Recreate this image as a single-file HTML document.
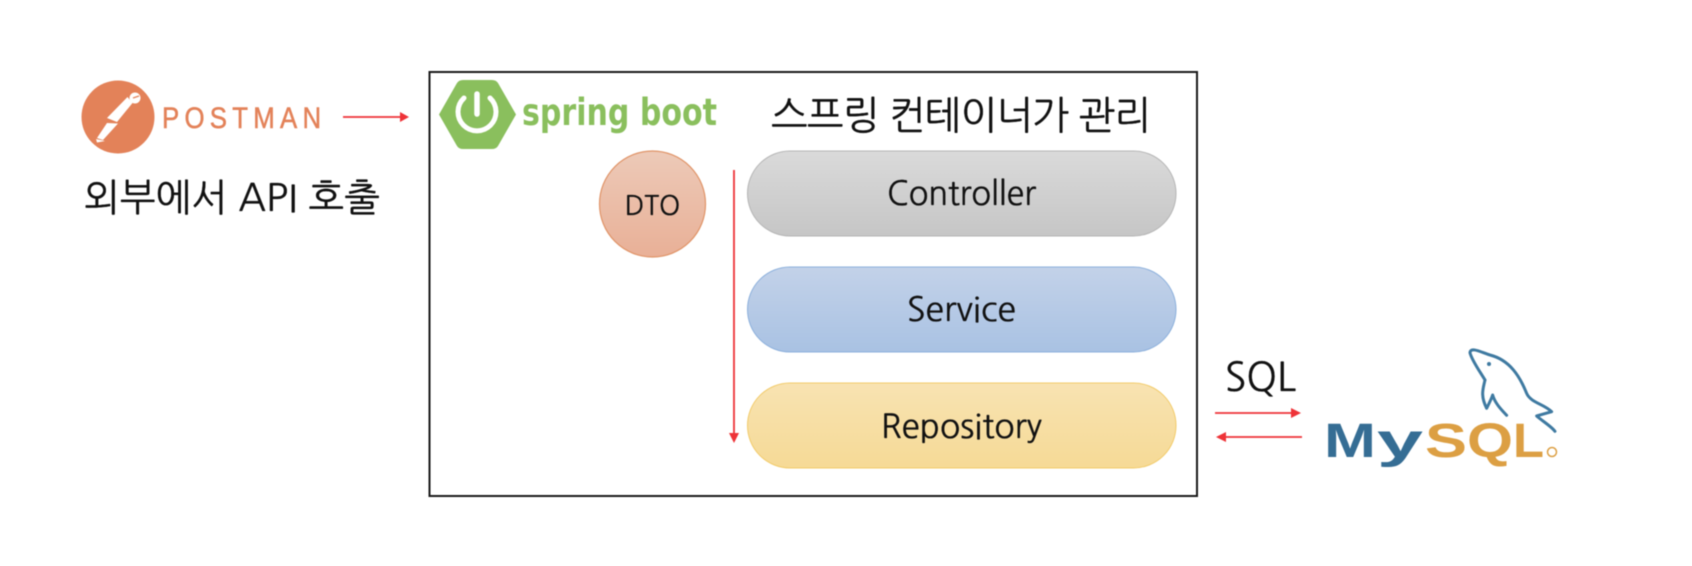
<!DOCTYPE html>
<html><head><meta charset="utf-8"><style>html,body{margin:0;padding:0;background:#fff;width:1692px;height:566px;overflow:hidden}svg{display:block;filter:blur(.45px)}
text{font-family:"NanumGothic","Noto Sans CJK KR","Liberation Sans",sans-serif;fill:#111}
.k{stroke:#111;stroke-width:.35px}</style></head><body>
<svg width="1692" height="566" viewBox="0 0 1692 566" xmlns="http://www.w3.org/2000/svg">
<defs>
<linearGradient id="g1" x1="0" y1="0" x2="0" y2="1"><stop offset="0" stop-color="#dadada"/><stop offset="1" stop-color="#c6c6c6"/></linearGradient>
<linearGradient id="g2" x1="0" y1="0" x2="0" y2="1"><stop offset="0" stop-color="#c3d2e9"/><stop offset="1" stop-color="#a9c2e3"/></linearGradient>
<linearGradient id="g3" x1="0" y1="0" x2="0" y2="1"><stop offset="0" stop-color="#f8e3b2"/><stop offset="1" stop-color="#f6da96"/></linearGradient>
<linearGradient id="g4" x1="0" y1="0" x2="0" y2="1"><stop offset="0" stop-color="#edcab8"/><stop offset="1" stop-color="#e9b097"/></linearGradient>
</defs>
<rect x="429.500" y="72" width="767.500" height="424" fill="#fff" stroke="#1a1a1a" stroke-width="2"/>
<!-- Postman -->
<circle cx="118" cy="117" r="36.500" fill="#e38259"/>
<g fill="#fff">
<circle cx="135" cy="98" r="5.500"/>
<path d="M127.500 97 L132.500 103 L117 122 L107 118 Z"/>
<path d="M118 123.500 L103 140 L97 138 L107 123 Z"/>
<path d="M96 139 L105 141 L97 142.500 Z"/>
</g>
<path d="M133 98 L139 96" stroke="#e38259" stroke-width="1.200"/>
<g transform="translate(162 128) scale(.86 1)"><text x="0" y="0" font-size="30" textLength="185" lengthAdjust="spacing" style="fill:#e38259;stroke:#e38259;stroke-width:.5px;font-family:'Liberation Sans',sans-serif">POSTMAN</text></g>
<text class="k" x="84" y="211" font-size="38" textLength="296">외부에서 API 호출</text>
<line x1="343" y1="117" x2="401" y2="117" stroke="#ee3338" stroke-width="1.800"/>
<polygon points="400,112 409,117 400,122" fill="#ee3338"/>
<!-- Spring boot -->
<path d="M439 114.500 L457 83 Q459 80 463 80 L492 80 Q496 80 498 83 L516 114.500 L498 146 Q496 149 492 149 L463 149 Q459 149 457 146 Z" fill="#8abf5d"/>
<path d="M464 98 A19 19 0 1 0 490 98" fill="none" stroke="#fff" stroke-width="5" stroke-linecap="round"/>
<line x1="477" y1="94" x2="477" y2="114" stroke="#fff" stroke-width="5.500" stroke-linecap="round"/>
<text x="522" y="125" font-size="37" font-weight="700" textLength="195" lengthAdjust="spacingAndGlyphs" style="fill:#8abf5d;font-family:'DejaVu Sans',sans-serif">spring boot</text>
<text class="k" x="771" y="129" font-size="39" textLength="380">스프링 컨테이너가 관리</text>
<!-- DTO -->
<circle cx="652.500" cy="204" r="53" fill="url(#g4)" stroke="#e09468" stroke-width="1.200"/>
<text class="k" x="652.500" y="215" font-size="27" text-anchor="middle">DTO</text>
<!-- red down -->
<line x1="734" y1="170" x2="734" y2="436" stroke="#ee3338" stroke-width="1.800"/>
<polygon points="729,433 739,433 734,443" fill="#ee3338"/>
<!-- Pills -->
<rect x="747.500" y="151" width="428.500" height="85" rx="42.500" fill="url(#g1)" stroke="#b5b5b5" stroke-width="1"/>
<rect x="747.500" y="267" width="428.500" height="85" rx="42.500" fill="url(#g2)" stroke="#8cb0dc" stroke-width="1"/>
<rect x="747.500" y="383" width="428.500" height="85" rx="42.500" fill="url(#g3)" stroke="#f2cb6a" stroke-width="1"/>
<text class="k" x="887" y="205" font-size="33" textLength="149" lengthAdjust="spacingAndGlyphs">Controller</text>
<text class="k" x="907" y="321" font-size="33" textLength="109" lengthAdjust="spacingAndGlyphs">Service</text>
<text class="k" x="881" y="438" font-size="33" textLength="161" lengthAdjust="spacingAndGlyphs">Repository</text>
<!-- SQL -->
<text class="k" x="1225" y="391" font-size="40" textLength="71" lengthAdjust="spacingAndGlyphs">SQL</text>
<line x1="1215" y1="413" x2="1293" y2="413" stroke="#ee3338" stroke-width="1.800"/>
<polygon points="1291,408 1301,413 1291,418" fill="#ee3338"/>
<line x1="1224" y1="437" x2="1302" y2="437" stroke="#ee3338" stroke-width="1.800"/>
<polygon points="1226,432 1216,437 1226,442" fill="#ee3338"/>
<!-- MySQL -->
<g font-size="48" font-weight="700" style="font-family:'Liberation Sans',sans-serif">
<text x="1324" y="457" textLength="52" lengthAdjust="spacingAndGlyphs" style="fill:#356d94;font-family:'Liberation Sans',sans-serif">M</text>
<text x="1377" y="457" textLength="46" lengthAdjust="spacingAndGlyphs" style="fill:#356d94;font-family:'Liberation Sans',sans-serif">y</text>
<text x="1425" y="457" textLength="42" lengthAdjust="spacingAndGlyphs" style="fill:#dc9f43;font-family:'Liberation Sans',sans-serif">S</text>
<text x="1467" y="457" textLength="46" lengthAdjust="spacingAndGlyphs" style="fill:#dc9f43;font-family:'Liberation Sans',sans-serif">Q</text>
<text x="1513" y="457" textLength="31" lengthAdjust="spacingAndGlyphs" style="fill:#dc9f43;font-family:'Liberation Sans',sans-serif">L</text>
</g>
<circle cx="1552" cy="452" r="4.500" fill="none" stroke="#dc9f43" stroke-width="1.500"/>
<g transform="translate(1190 330) scale(.3333)" fill="none" stroke="#3f7aa1" stroke-width="9" stroke-linejoin="round" stroke-linecap="round">
<path d="M885 150 C870 125 845 90 840 68 C842 50 870 65 900 75 C960 90 990 140 1010 190 C1022 218 1062 222 1085 245 L1040 258 C1060 275 1085 290 1095 304"/>
<path d="M885 150 C880 175 870 195 890 235 C900 215 905 205 908 195 C915 220 935 240 950 256"/>
</g>
<circle cx="1489" cy="364" r="2" fill="#3f7aa1"/>
</svg>
</body></html>
